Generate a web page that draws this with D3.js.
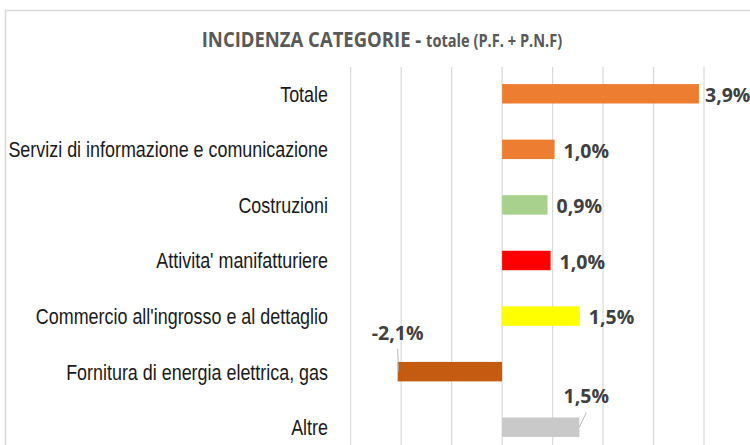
<!DOCTYPE html>
<html>
<head>
<meta charset="utf-8">
<script src="https://cdn.jsdelivr.net/npm/d3@7"></script>
<style>
  html, body { margin: 0; padding: 0; background: #fff; }
  svg { display: block; }
</style>
</head>
<body>
<div id="chart"></div>
<script>
// data (percent)
const categories = [
  "Totale",
  "Servizi di informazione e comunicazione",
  "Costruzioni",
  "Attivita' manifatturiere",
  "Commercio all'ingrosso e al dettaglio",
  "Fornitura di energia elettrica, gas",
  "Altre"
];
const values = [3.9, 1.04, 0.9, 0.96, 1.54, -2.07, 1.53];
const barColors = ["#ED7D31", "#ED7D31", "#A9D18E", "#FF0000", "#FFFF00", "#C55A11", "#C9C9C9"];
const gridTicks = [-3, -2, -1, 0, 1, 2, 3, 4];
const calloutCats = ["Fornitura di energia elettrica, gas", "Altre"];

const W = 750, H = 445;

const svg = d3.select("#chart")
  .append("svg")
    .attr("width", W)
    .attr("height", H);

// chart frame (right and bottom edges are outside the crop)
svg.append("rect")
  .attr("x", 5.5).attr("y", 10.5)
  .attr("width", 800).attr("height", 500)
  .attr("fill", "none")
  .attr("stroke", "#d9d9d9")
  .attr("stroke-width", 1.5);

// title
const title = svg.append("text")
  .attr("transform", "translate(382,47) scale(0.86,1)")
  .attr("text-anchor", "middle")
  .attr("fill", "#595959")
  .style("font-family", "'Open Sans', sans-serif")
  .style("font-weight", "bold");
title.append("tspan").style("font-size", "21.5px").text("INCIDENZA CATEGORIE - ");
title.append("tspan").style("font-size", "17px").text("totale (P.F. + P.N.F)");

const x = d3.scaleLinear()
  .domain([-3, 4])
  .range([350.7, 704]);

const y = d3.scaleBand()
  .domain(categories)
  .range([66, 455])
  .paddingInner(0.65)
  .paddingOuter(0.325);

// vertical gridlines
svg.append("g")
  .selectAll("line")
  .data(gridTicks)
  .enter()
  .append("line")
    .attr("x1", d => x(d)).attr("x2", d => x(d))
    .attr("y1", 67).attr("y2", H)
    .attr("stroke", "#d9d9d9")
    .attr("stroke-width", 1.2);

const rows = categories.map((c, i) => ({cat: c, v: values[i], color: barColors[i]}));

// bars
svg.append("g")
  .selectAll("rect")
  .data(rows)
  .enter()
  .append("rect")
    .attr("x", d => x(Math.min(0, d.v)))
    .attr("y", d => y(d.cat))
    .attr("width", d => Math.abs(x(d.v) - x(0)))
    .attr("height", y.bandwidth())
    .attr("fill", d => d.color);

// category labels
svg.append("g")
  .selectAll("text")
  .data(categories)
  .enter()
  .append("text")
    .attr("transform", d => "translate(328," + (y(d) + y.bandwidth() / 2) + ") scale(0.815,1)")
    .attr("text-anchor", "end")
    .attr("dy", "0.36em")
    .attr("fill", "#1a1a1a")
    .style("font-family", "'Liberation Sans', Arial, sans-serif")
    .style("font-size", "22px")
    .text(d => d);

// value labels, Italian decimal comma, plain hyphen for minus
const it = d3.formatLocale({decimal: ",", thousands: ".", grouping: [3], currency: ["", "€"], minus: "-"});
const fmt = v => it.format(".1f")(v) + "%";

const labels = svg.append("g")
  .style("font-family", "'Open Sans', sans-serif")
  .style("font-weight", "bold")
  .style("font-size", "19.5px")
  .attr("fill", "#404040");

rows.filter(d => !calloutCats.includes(d.cat)).forEach(d => {
  const lx = Math.min(x(d.v) + 9, 705);
  labels.append("text")
    .attr("x", lx)
    .attr("y", y(d.cat) + y.bandwidth() / 2)
    .attr("dy", "0.42em")
    .text(fmt(d.v));
});

// callout labels above the bar with a leader line
rows.filter(d => calloutCats.includes(d.cat)).forEach(d => {
  const top = y(d.cat);
  const mid = top + y.bandwidth() / 2;
  const cx = d.v < 0 ? x(d.v) : x(d.v) + 7;
  const base = top - (d.v < 0 ? 22 : 14);
  labels.append("text")
    .attr("x", cx)
    .attr("y", base)
    .attr("text-anchor", "middle")
    .text(fmt(d.v));
  svg.append("line")
    .attr("x1", cx).attr("y1", base + 9)
    .attr("x2", x(d.v) + (d.v < 0 ? 1 : 0)).attr("y2", mid)
    .attr("stroke", "#a6a6a6")
    .attr("stroke-width", 0.8);
});
</script>
</body>
</html>
